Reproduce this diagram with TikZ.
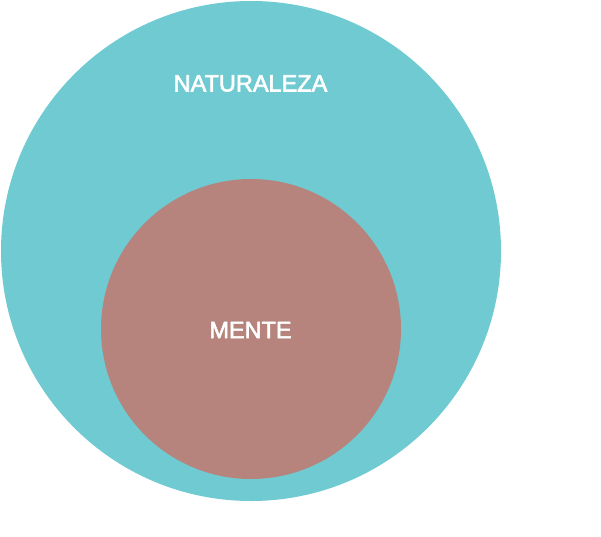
\documentclass[tikz,border=0pt]{standalone}
\usepackage{fontspec}
\setmainfont{Liberation Sans}
\newfontfamily\lblfont{Liberation Sans}[FakeBold=2.5]
\definecolor{teal}{HTML}{6FCAD1}
\definecolor{brownish}{HTML}{B6847C}
\begin{document}
\begin{tikzpicture}[x=1pt,y=1pt,
  lbl/.style={text=white,font=\lblfont\fontsize{23.5}{28}\selectfont,inner sep=0pt}]
\useasboundingbox (0,0) rectangle (601,536);
\fill[teal] (251,285) circle (250);
\fill[brownish] (251,207) circle (150);
\node[lbl] (nat) at (250.5,452.5) {NATURALEZA};
\node[lbl] (men) at (250.5,206) {MENTE};
\end{tikzpicture}
\end{document}
